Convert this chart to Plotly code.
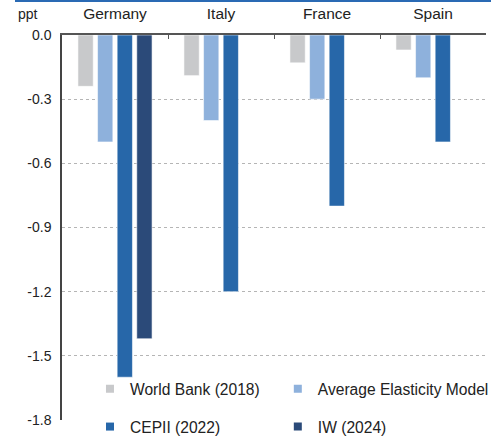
import plotly.graph_objects as go

countries = ["Germany", "Italy", "France", "Spain"]
world_bank = [-0.24, -0.19, -0.13, -0.07]
avg_elasticity = [-0.50, -0.40, -0.30, -0.20]
cepii = [-1.60, -1.20, -0.80, -0.50]
iw = [-1.42, None, None, None]

# name, values, colour, legend slot (x, y in paper units)
series = [
    ("World Bank (2018)", world_bank, "#c8c9cb", "legend", 0.066, 0.080),
    ("Average Elasticity Model", avg_elasticity, "#8eb1dc", "legend2", 0.509, 0.080),
    ("CEPII (2022)", cepii, "#2767a9", "legend3", 0.066, -0.018),
    ("IW (2024)", iw, "#2b4a79", "legend4", 0.509, -0.018),
]

y_ticks = [0.0, -0.3, -0.6, -0.9, -1.2, -1.5, -1.8]
y_tick_text = [f"{v:.1f}" for v in y_ticks]

FONT = "Arial, Liberation Sans, sans-serif"

fig = go.Figure()
for name, vals, color, *_ in series:
    fig.add_trace(go.Bar(
        x=countries, y=vals, name=name, showlegend=False,
        marker=dict(color=color, line=dict(color="rgba(255,255,255,0.7)", width=0.8)),
    ))

# small square legend keys, one legend box per entry
legends = {}
for name, vals, color, lg, lx, ly in series:
    fig.add_trace(go.Scatter(
        x=[None], y=[None], mode="markers", name=name, legend=lg,
        marker=dict(symbol="square", size=8, color=color),
    ))
    legends[lg] = dict(
        x=lx, y=ly, xanchor="left", yanchor="middle", itemwidth=30,
        font=dict(size=15.6, family=FONT, color="#222"), bgcolor="rgba(0,0,0,0)",
    )

fig.update_layout(
    width=491, height=439,
    margin=dict(l=62, r=5, t=35, b=19, autoexpand=False),
    paper_bgcolor="white", plot_bgcolor="white",
    font=dict(family=FONT, size=14, color="#222"),
    barmode="group", bargap=0.26, bargroupgap=0.22,
    **legends,
    xaxis=dict(
        side="top", showline=True, linecolor="#555", linewidth=2,
        ticks="inside", tickson="boundaries", ticklen=4, tickcolor="#555",
        ticklabelstandoff=8, tickfont=dict(size=15.5, family=FONT, color="#222"),
        showgrid=False, fixedrange=True,
    ),
    yaxis=dict(
        range=[-1.8, 0], tickvals=y_ticks, ticktext=y_tick_text,
        showline=True, linecolor="#444", linewidth=1.5, ticks="",
        showgrid=True, gridcolor="#b5b5b5", griddash="dot", gridwidth=1,
        zeroline=False, ticklabelstandoff=6,
        tickfont=dict(size=14, family=FONT, color="#222"), fixedrange=True,
    ),
    annotations=[dict(
        text="ppt", xref="paper", yref="paper", x=0, y=1,
        xanchor="right", yanchor="middle", xshift=-22, yshift=21,
        showarrow=False, font=dict(size=14, family=FONT, color="#222"),
    )],
    shapes=[dict(
        type="line", xref="paper", yref="paper",
        x0=(15 - 62) / 424, x1=(491 - 62) / 424,
        y0=1 + 34 / 385, y1=1 + 34 / 385,
        line=dict(color="#2a6ab4", width=2),
    )],
)

fig.write_html("out.html")
